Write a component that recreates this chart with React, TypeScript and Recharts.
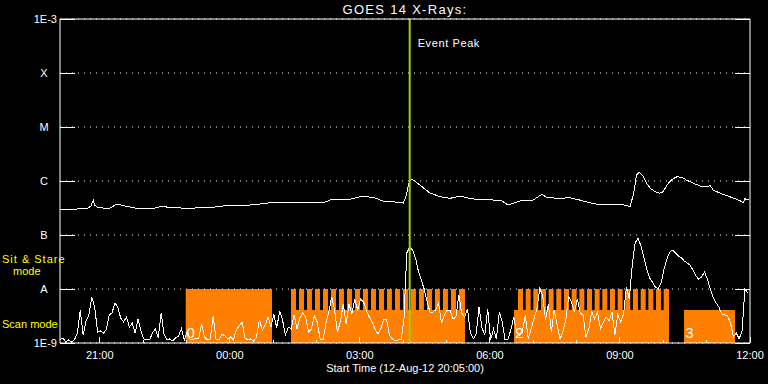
import { ComposedChart, Line, Area, XAxis, YAxis, CartesianGrid, ReferenceLine, ReferenceDot } from 'recharts'

// time axis: minutes after 12-Aug-12 20:05:00
const START_MIN = 20 * 60 + 5
const END_T = 955

// 0.5-4 A channel, one value every 4 minutes, in 1e-9 W/m^2
const shortStep = 4
const shortNano = [
  1.14, 1.24, 1.04, 1.14, 1.04, 1.14, 1.53, 4.08, 1.41, 2.55, 3.3,
  7.11, 4.64, 1.6, 1.67, 1.53, 1.74, 3.3, 3.59, 5.51, 4.64,
  2.9, 2.45, 3.03, 1.98, 2.35, 1.53, 2.78, 1.67, 1.19, 1.14,
  1.14, 1.53, 1.82, 1.24, 3.59, 1.47, 1.14, 1.19, 1.09, 1.24,
  1.35, 1.82, 1.14, 1.6,
  1.19, 1.14, 1.24, 1.19, 2.25, 1.29,
  1.14, 1.19, 3.16, 1.19, 1.14, 1.47, 1.35, 1.19, 1.29, 1.14,
  1.74, 2.06, 2.45, 1.24, 1.14, 1.19, 1.09, 1.29, 2.67, 1.74,
  2.15, 3.03, 1.98, 3.44, 1.9, 3.91, 2.67, 1.41, 1.98, 1.82,
  3.3, 1.82, 2.9, 3.59, 3.03, 1.6, 1.82, 3.16, 2.45,
  1.19, 1.14, 2.25, 3.75, 7.11, 4.26, 1.6, 2.45, 5.28, 2.25, 5.28,
  3.44, 6.53, 4.08, 6.53, 5.75, 4.08, 3.03, 2.45, 1.82, 1.47,
  1.82, 2.67, 2.67, 1.41, 1.19, 1.09, 1.14, 1.14, 2.67, 46.4,
  59.9, 52.7, 37.5, 21.5, 14.7, 10.0, 6.0, 3.75, 3.75, 4.08,
  5.51, 2.35, 3.3, 4.08,
  4.08, 2.78, 3.03, 7.74, 3.59, 3.03,
  4.26, 1.53, 1.19, 1.47, 4.64, 1.9, 1.41, 4.26, 1.14, 1.82,
  1.19, 3.75, 2.45, 1.14, 1.19, 1.74, 3.03, 1.6, 1.41, 1.6,
  3.3, 1.19, 1.82, 2.78, 4.26, 10.0, 7.74, 2.67, 5.28, 1.6,
  4.08, 2.25, 1.19, 1.6, 2.67, 7.11, 5.75, 3.75, 6.53,
  3.59, 3.3, 1.29, 1.82, 3.75, 2.78, 3.75, 1.82, 2.45, 3.03, 2.55,
  3.75, 1.41, 3.3, 2.45, 3.44, 10.9, 6.53, 27.8, 71.1, 88.0,
  62.6, 39.1, 23.5, 16.0, 13.5, 10.9, 10.0, 12.9, 23.5, 35.9,
  48.4, 52.7, 46.4, 40.8, 37.5, 33.0, 30.3, 27.8, 22.5, 17.4,
  15.3, 16.7, 20.6, 15.3, 10.0, 7.11, 5.51, 4.64, 3.44, 3.3,
  3.16, 2.35, 1.29, 1.53, 1.19, 1.67, 10.0, 8.43,
]

// 1-8 A channel, [minutes, flux in 1e-7 W/m^2]
const longChannel: [number, number][] = [
  [0, 3.03], [24, 3.03], [39, 3.16], [43, 3.44], [46, 4.45], [48, 3.59], [51, 3.3],
  [60, 3.16], [69, 3.16], [79, 3.75], [90, 3.44], [104, 3.16], [132, 3.16], [143, 3.44],
  [152, 3.16], [162, 3.3], [173, 3.03], [194, 3.23], [215, 3.3], [235, 3.59], [263, 3.59],
  [277, 3.75], [298, 4.08], [311, 4.08], [318, 3.91], [332, 4.0], [346, 4.0], [367, 4.08],
  [374, 4.45], [401, 4.55], [419, 5.27], [436, 4.84], [447, 4.26], [464, 4.08], [475, 3.91],
  [479, 5.27], [482, 8.07], [484, 10.0], [487, 10.9], [491, 10.0], [498, 8.43], [505, 7.11],
  [512, 6.0], [526, 5.12], [540, 4.78], [554, 5.27], [567, 4.78], [581, 4.45], [595, 4.59],
  [606, 4.26], [610, 4.45], [620, 3.59], [637, 4.26], [655, 4.45], [667, 5.67], [674, 4.9],
  [683, 4.85], [692, 4.78], [705, 4.9], [719, 4.45], [733, 3.96], [742, 3.75], [761, 3.59],
  [771, 3.75], [781, 3.59], [789, 3.34], [794, 5.92], [798, 12.9], [802, 14.5], [807, 12.4],
  [812, 9.06], [817, 7.32], [824, 6.34], [830, 5.92], [835, 6.34], [840, 8.43], [847, 10.7],
  [854, 12.0], [861, 11.7], [867, 10.4], [877, 9.06], [886, 8.07], [895, 7.84], [900, 8.18],
  [904, 6.81], [914, 5.92], [927, 5.12], [941, 4.32], [946, 3.96], [948, 4.78], [950, 4.45],
  [954, 4.59],
]

// XRS mode transitions [minutes, mode]: 0 = none, 1 = scan, 2 = sit & stare
const modeSteps: [number, number][] = [
  [0, 0], [174, 2], [293.4, 0],
  [319.7, 2], [326.6, 1], [330.8, 2], [337.7, 1], [341.8, 2], [348.7, 1], [352.9, 2], [359.8, 1],
  [364.0, 2], [370.9, 1], [375.1, 2], [382.0, 1], [386.1, 2], [393.0, 1], [397.2, 2], [404.1, 1],
  [408.3, 2], [415.2, 1], [419.3, 2], [426.2, 1], [430.4, 2], [437.3, 1], [441.5, 2], [448.4, 1],
  [452.5, 2], [459.4, 1], [463.6, 2], [470.5, 1], [474.7, 2], [481.6, 1], [485.7, 2], [492.6, 1],
  [496.8, 2], [503.7, 1], [507.9, 2], [514.8, 1], [518.9, 2], [525.8, 1], [530.0, 2], [536.9, 1],
  [541.1, 2], [548.0, 1], [552.2, 2], [560.5, 0],
  [628.4, 1], [633.9, 2], [640.8, 1], [644.5, 2], [651.4, 1], [655.1, 2], [662.0, 1], [665.7, 2],
  [672.6, 1], [676.3, 2], [683.2, 1], [686.9, 2], [693.8, 1], [697.6, 2], [704.5, 1], [708.2, 2],
  [715.1, 1], [718.8, 2], [725.7, 1], [729.4, 2], [736.3, 1], [740.0, 2], [746.9, 1], [750.6, 2],
  [757.5, 1], [761.2, 2], [768.1, 1], [771.8, 2], [778.7, 1], [782.4, 2], [789.3, 1], [793.0, 2],
  [799.9, 1], [803.7, 2], [810.6, 1], [814.3, 2], [821.2, 1], [824.9, 2], [831.8, 1], [835.5, 2],
  [842.9, 0],
  [863.7, 1], [934.2, 0], [955, 0],
]
const modeFlux = [1e-9, 4.1e-9, 1e-8]

const blockLabels = [
  { t: 181, text: '0' },
  { t: 636, text: '2' },
  { t: 871, text: '3' },
]

const eventPeak = 484

const fluxTicks = [1e-9, 1e-8, 1e-7, 1e-6, 1e-5, 1e-4, 1e-3]
const fluxLabels = ['1E-9', 'A', 'B', 'C', 'M', 'X', '1E-3']

const hourTicks = [55, 115, 175, 235, 295, 355, 415, 475, 535, 595, 655, 715, 775, 835, 895, 955]
const labelledHours = [55, 235, 415, 595, 775, 955]

const shortData = shortNano.map((v, i) => ({ t: i * shortStep, flux: v * 1e-9 }))
const longData = longChannel.map(([t, v]) => ({ t, flux: v * 1e-7 }))
const modeData = modeSteps.map(([t, m]) => ({ t, flux: modeFlux[m] }))

const FONT = '"Liberation Sans", Arial, sans-serif'
const ORANGE = '#ff8000'
const GREEN = '#a0d000'

const fmtTime = (t: number) => {
  const m = (START_MIN + t) % 1440
  const hh = String(Math.floor(m / 60)).padStart(2, '0')
  const mm = String(m % 60).padStart(2, '0')
  return `${hh}:${mm}`
}

function LeftTick({ x, y, payload }: any) {
  const i = fluxTicks.indexOf(payload.value)
  const edge = i === 0 || i === fluxTicks.length - 1
  return (
    <g>
      <line x1={x} x2={x + 15} y1={y} y2={y} stroke="#fff" shapeRendering="crispEdges" />
      <text x={edge ? x - 3 : x - 16} y={y} textAnchor={edge ? 'end' : 'middle'}
        dominantBaseline="central" fill="#fff" fontSize={11} fontFamily={FONT}>
        {fluxLabels[i]}
      </text>
    </g>
  )
}

function RightTick({ x, y }: any) {
  return <line x1={x} x2={x - 15} y1={y} y2={y} stroke="#fff" shapeRendering="crispEdges" />
}

function BottomTick({ x, y, payload }: any) {
  const major = labelledHours.includes(payload.value)
  return (
    <g>
      <line x1={x} x2={x} y1={y} y2={y - (major ? 6 : 3)} stroke="#fff" shapeRendering="crispEdges" />
      {major && (
        <text x={x} y={y + 12} textAnchor="middle" dominantBaseline="central"
          fill="#fff" fontSize={11} fontFamily={FONT}>
          {fmtTime(payload.value)}
        </text>
      )}
    </g>
  )
}

function TopTick({ x, y, payload }: any) {
  const major = labelledHours.includes(payload.value)
  return <line x1={x} x2={x} y1={y} y2={y + (major ? 6 : 3)} stroke="#fff" shapeRendering="crispEdges" />
}

function PeakLabel({ viewBox }: any) {
  return (
    <text x={viewBox.x + 8} y={viewBox.y + 24} dominantBaseline="central"
      fill="#fff" fontSize={11} letterSpacing={0.6} fontFamily={FONT}>
      Event Peak
    </text>
  )
}

export default function App() {
  return (
    <div style={{ position: 'absolute', left: 0, top: 0, width: 768, height: 384, background: '#000' }}>
      <ComposedChart width={768} height={384} margin={{ top: 0, right: 0, bottom: 0, left: 0 }}>
        <CartesianGrid horizontal vertical={false} stroke="#fff" strokeDasharray="1 5" />
        <Area data={modeData} dataKey="flux" type="stepAfter" stroke="none"
          fill={ORANGE} fillOpacity={1} isAnimationActive={false} />
        <Line data={shortData} dataKey="flux" type="linear" stroke="#fff" strokeWidth={1}
          shapeRendering="crispEdges" dot={false} isAnimationActive={false} />
        <Line data={longData} dataKey="flux" type="linear" stroke="#fff" strokeWidth={1}
          shapeRendering="crispEdges" dot={false} isAnimationActive={false} />
        <ReferenceLine x={eventPeak} stroke={GREEN} strokeWidth={2} label={<PeakLabel />} />
        {blockLabels.map((b) => (
          <ReferenceDot key={b.text} x={b.t} y={1.55e-9} r={0} fill="none" stroke="none"
            label={{ value: b.text, position: 'center', fill: '#fff', fontSize: 15, fontFamily: FONT }} />
        ))}
        <XAxis type="number" dataKey="t" domain={[0, END_T]} ticks={hourTicks} interval={0}
          allowDataOverflow height={41} tickSize={0} tickMargin={0} tickLine={false}
          stroke="#fff" tick={<BottomTick />} />
        <XAxis xAxisId="top" orientation="top" type="number" domain={[0, END_T]} ticks={hourTicks}
          interval={0} allowDataOverflow height={19} tickSize={0} tickMargin={0} tickLine={false}
          stroke="#fff" tick={<TopTick />} />
        <YAxis type="number" scale="log" domain={[1e-9, 1e-3]} ticks={fluxTicks} interval={0}
          allowDataOverflow width={60} tickSize={0} tickMargin={0} tickLine={false}
          stroke="#fff" tick={<LeftTick />} />
        <YAxis yAxisId="right" orientation="right" type="number" scale="log" domain={[1e-9, 1e-3]}
          ticks={fluxTicks} interval={0} allowDataOverflow width={18} tickSize={0} tickMargin={0}
          tickLine={false} stroke="#fff" tick={<RightTick />} />
      </ComposedChart>
      <svg width={768} height={384} style={{ position: 'absolute', left: 0, top: 0, pointerEvents: 'none' }}
        fontFamily={FONT} fontSize={11}>
        <text x={405} y={9} textAnchor="middle" dominantBaseline="central" fill="#fff" fontSize={13} letterSpacing={1.3}>
          GOES 14 X-Rays:
        </text>
        <text x={405} y={368} textAnchor="middle" dominantBaseline="central" fill="#fff">
          Start Time (12-Aug-12 20:05:00)
        </text>
        <text x={2} y={259} dominantBaseline="central" fill="#ffff00" letterSpacing={1}>Sit &amp; Stare</text>
        <text x={13} y={271} dominantBaseline="central" fill="#ffff00">mode</text>
        <text x={2} y={324} dominantBaseline="central" fill="#ffff00">Scan mode</text>
      </svg>
    </div>
  )
}
